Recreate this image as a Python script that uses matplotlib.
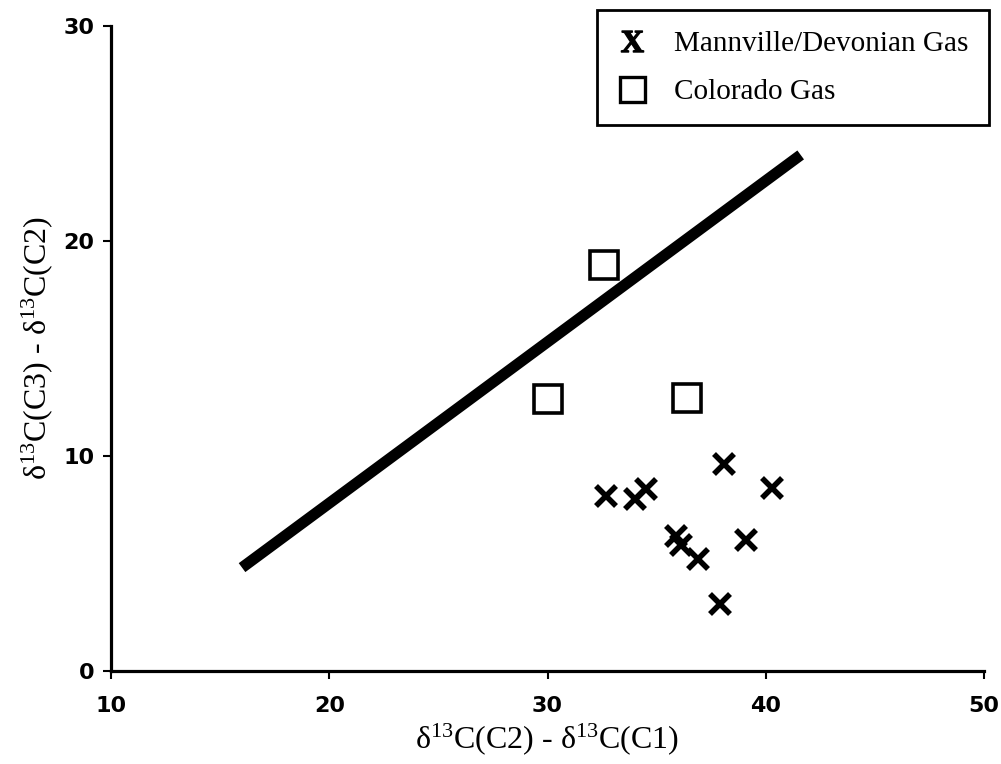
import matplotlib
matplotlib.use("Agg")
import matplotlib.pyplot as plt
from matplotlib.lines import Line2D

plt.rcParams['mathtext.fontset'] = 'custom'
plt.rcParams['mathtext.rm'] = 'Liberation Serif'
plt.rcParams['mathtext.bf'] = 'Liberation Serif:bold'
plt.rcParams['mathtext.default'] = 'regular'

# Mannville/Devonian gas (crosses)
mann_x = [32.7, 34.0, 34.5, 38.1, 40.3, 35.9, 36.1, 36.9, 39.1, 37.9]
mann_y = [8.15, 8.0, 8.45, 9.6, 8.5, 6.25, 5.85, 5.2, 6.1, 3.1]

# Colorado gas (squares)
colo_x = [32.6, 30.0, 36.4]
colo_y = [18.9, 12.65, 12.7]

# thick reference line
line_x = [16.0, 41.6]
line_y = [4.8, 24.0]

fig = plt.figure(figsize=(10.01, 7.64), dpi=100)
ax = fig.add_axes([0.111, 0.122, 0.872, 0.844])

ax.plot(line_x, line_y, color='black', lw=8, solid_capstyle='butt')
ax.plot(mann_x, mann_y, ls='none', marker='x', ms=14, mew=4, color='black')
ax.plot(colo_x, colo_y, ls='none', marker='s', ms=20, mew=2.6,
        mfc='white', mec='black')

ax.set_xlim(10, 50)
ax.set_ylim(0, 30)
ax.set_xticks([10, 20, 30, 40, 50])
ax.set_yticks([0, 10, 20, 30])
for s in ['top', 'right']:
    ax.spines[s].set_visible(False)
for s in ['left', 'bottom']:
    ax.spines[s].set_linewidth(2.3)
ax.tick_params(direction='out', length=6, width=1.5)
ax.tick_params(axis='x', pad=12)
ax.tick_params(axis='y', pad=6)
for lab in ax.get_xticklabels() + ax.get_yticklabels():
    lab.set_fontfamily('DejaVu Sans')
    lab.set_fontweight('bold')
    lab.set_fontsize(16)

ax.set_xlabel(r'δ$^{13}$C(C2) - δ$^{13}$C(C1)', family='Liberation Serif',
              fontsize=23, labelpad=4)
ax.set_ylabel(r'δ$^{13}$C(C3) - δ$^{13}$C(C2)', family='Liberation Serif',
              fontsize=23, labelpad=6)

handles = [
    Line2D([], [], ls='none', marker=r'$\mathbf{X}$', ms=16, color='black'),
    Line2D([], [], ls='none', marker='s', ms=18, mew=2.4, mfc='white', mec='black'),
]
leg = fig.legend(handles, ['Mannville/Devonian Gas', 'Colorado Gas'],
                 loc='upper right', bbox_to_anchor=(0.988, 0.987),
                 prop={'family': 'Liberation Serif', 'size': 21},
                 fancybox=False, framealpha=1, edgecolor='black',
                 handlelength=1.0, handletextpad=0.95, borderpad=0.7,
                 labelspacing=0.75, borderaxespad=0)
leg.get_frame().set_linewidth(2)

fig.savefig('out.png', dpi=100)
